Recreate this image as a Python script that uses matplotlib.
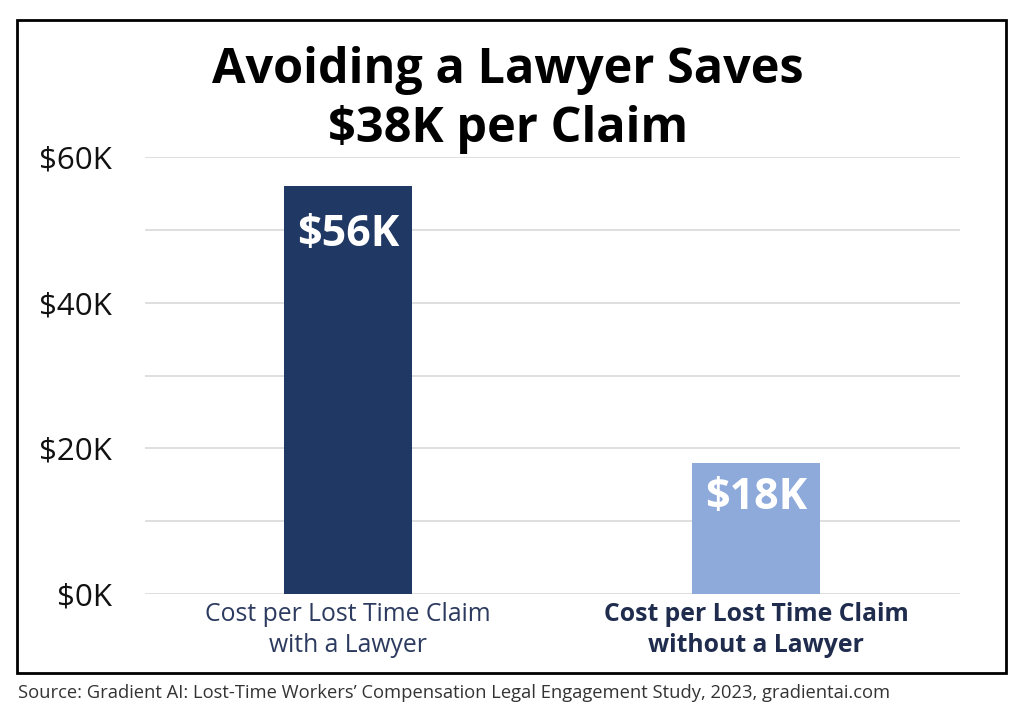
import matplotlib
matplotlib.use("Agg")
import matplotlib.pyplot as plt
from matplotlib.patches import Rectangle

categories = ["Cost per Lost Time Claim\nwith a Lawyer", "Cost per Lost Time Claim\nwithout a Lawyer"]
values = [56, 18]
value_labels = ["$56K", "$18K"]
yticks = [0, 20, 40, 60]
ytick_labels = ["$0K", "$20K", "$40K", "$60K"]
title = "Avoiding a Lawyer Saves\n$38K per Claim"
source = "Source: Gradient AI: Lost-Time Workers\u2019 Compensation Legal Engagement Study, 2023, gradientai.com"

bar_colors = ["#1f3864", "#8eaadb"]
label_colors = ["#2b3a5e", "#1f2c4d"]
label_offsets = [6.6, 4.8]
font = "Open Sans"

W, H = 1024, 723
fig = plt.figure(figsize=(W / 100, H / 100), dpi=100)
fig.patch.set_facecolor("white")

def fx(px):
    return px / W

def fy(py):
    return 1 - py / H

ax = fig.add_axes([fx(145), fy(594), fx(960) - fx(145), fy(157) - fy(594)])
x = [0, 1]
ax.bar(x, values, width=0.3137, color=bar_colors, zorder=3)
ax.set_xlim(-0.4975, 1.5)
ax.set_ylim(0, 60)
ax.set_yticks(yticks)
ax.set_yticklabels(ytick_labels, fontsize=22.5, family=font, color="#111111")
ax.set_yticks(range(0, 61, 10), minor=True)
ax.yaxis.grid(True, which="both", color="#dcdcdc", linewidth=1.3, zorder=0)
ax.tick_params(axis="y", which="both", length=0)
ax.tick_params(axis="y", which="major", pad=24)
ax.set_xticks([])
for s in ax.spines.values():
    s.set_visible(False)

for xi, v, lab, off in zip(x, values, value_labels, label_offsets):
    ax.text(xi, v - off, lab, ha="center", va="center", color="white",
            fontsize=31, fontweight="bold", family=font, zorder=4)

weights = ["normal", "bold"]
for xi, cat, w, c in zip(x, categories, weights, label_colors):
    ax.text(xi, -1.1, cat, ha="center", va="top", color=c,
            fontsize=17.8, fontweight=w, family=font, linespacing=1.3,
            transform=ax.transData)

fig.text(fx(508), fy(100), title, ha="center", va="center", fontsize=35,
         fontweight="bold", family=font, color="black", linespacing=1.25)

fig.text(fx(18), fy(693), source, ha="left", va="center", fontsize=13.2,
         family=font, color="#333333")

fig.patches.append(Rectangle((fx(17), fy(673)), fx(1006) - fx(17), fy(20) - fy(673),
                             transform=fig.transFigure, fill=False,
                             edgecolor="black", linewidth=2))

fig.savefig("out.png", dpi=100, facecolor="white")
